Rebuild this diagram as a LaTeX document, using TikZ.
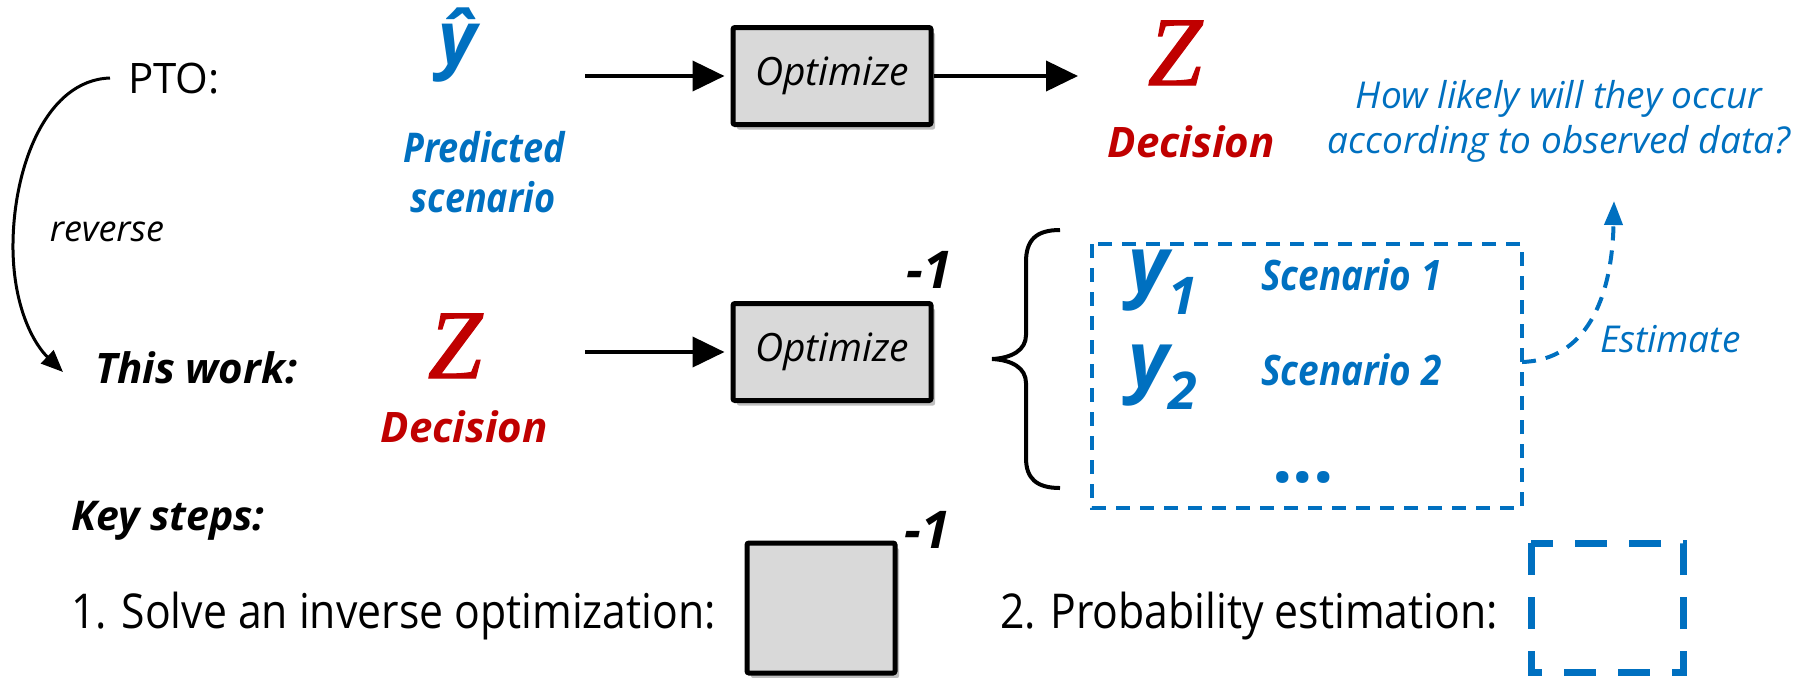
\documentclass[tikz,border=0pt]{standalone}
\usepackage{fontspec}
\setmainfont{Open Sans}
\newfontfamily\zfont{Liberation Serif}[ItalicFeatures={FakeBold=1.3}]
\newfontfamily\stepfont{Open Sans}[FakeStretch=0.89]
\newfontfamily\condfont{Open Sans}[FakeStretch=0.88]
\usetikzlibrary{arrows.meta,shadows}
\definecolor{accblue}{HTML}{0070C0}
\definecolor{accred}{HTML}{C00000}
\definecolor{boxgray}{HTML}{D9D9D9}
\newcommand\fsz[1]{\fontsize{#1}{#1}\selectfont}

\begin{document}
\begin{tikzpicture}[x=0.5pt,y=-0.5pt,
  txt/.style={inner sep=0pt,outer sep=0pt},
  boldlbl/.style={txt,font=\fsz{21}\bfseries\itshape},
  condlbl/.style={txt,font=\condfont\fsz{21}\bfseries\itshape},
  note/.style={txt,font=\fsz{18.5}\itshape,text=accblue},
  zvar/.style={txt,font=\zfont\fsz{49}\itshape,text=accred},
  yvar/.style={txt,text=accblue},
  inv/.style={txt,font=\fsz{26}\bfseries\itshape},
  optbox/.style={draw,line width=2.5pt,fill=boxgray,rounded corners=1pt,
    minimum width=99pt,minimum height=48.5pt,inner sep=0pt,
    font=\fsz{19.5}\itshape,
    drop shadow={shadow xshift=2pt,shadow yshift=-2.5pt,fill=black,opacity=0.25}},
  flow/.style={line width=2pt,shorten >=3pt,-{Triangle[length=16pt,width=15pt]}},
  revarrow/.style={line width=1.5pt,-{Triangle[length=11pt,width=9pt]}},
  scenbox/.style={draw=accblue,line width=2pt,dash pattern=on 7pt off 5pt},
  estarr/.style={draw=accblue,line width=2pt,dash pattern=on 7pt off 5pt,
    -{Triangle[length=12pt,width=9pt]}},
  bigdash/.style={draw=accblue,line width=3.5pt,dash pattern=on 16pt off 11pt}
]
\useasboundingbox (0,0) rectangle (1798,677);

% ---- predict-then-optimize row
\node[txt,anchor=base west,font=\fsz{21}] (pto) at (128,93) {PTO:};
\node[txt,anchor=base,font=\fsz{37}\bfseries\itshape,text=accblue] (yhat) at (458,64) {ŷ};
\node[condlbl,anchor=base,text=accblue,font=\condfont\fsz{20.5}\bfseries\itshape] (pred1) at (484,162) {Predicted};
\node[condlbl,anchor=base,text=accblue,font=\condfont\fsz{20.5}\bfseries\itshape] (pred2) at (483,212) {scenario};
\coordinate (a1s) at (585,76);
\node[optbox] (opt1) at (832,76) {Optimize};
\coordinate (a2e) at (1078,76);
\draw[flow] (a1s) -- (opt1);
\draw[flow,shorten >=0pt] (opt1) -- (a2e);
\node[zvar,anchor=base] (ztop) at (1175,85) {Z};
\node[boldlbl,anchor=base,text=accred] (dtop) at (1191,157) {Decision};

\node[note,anchor=base] (q1) at (1559,108) {How likely will they occur};
\node[note,anchor=base] (q2) at (1559,153) {according to observed data?};

% ---- reverse arrow
\coordinate (rvS) at (110,78);
\coordinate (rvE) at (63,372);
\draw[revarrow] (rvS) .. controls (45,80) and (12,170) .. (13,250)
  .. controls (14,310) and (35,345) .. (rvE);
\node[txt,font=\fsz{18}\itshape] (rev) at (107,232) {reverse};

% ---- inverse row
\node[boldlbl,anchor=base west] (tw) at (95,383) {This work:};
\node[zvar,anchor=base] (zmid) at (455,378) {Z};
\node[boldlbl,anchor=base,text=accred] (dmid) at (464,442) {Decision};
\coordinate (a3s) at (585,352);
\node[optbox] (opt2) at (832,352) {Optimize};
\draw[flow] (a3s) -- (opt2);
\node[inv,anchor=base] (inv1) at (929,288) {-1};

% curly brace
\draw[line width=2pt] (1060,230) .. controls (1036,230) and (1026,240) .. (1026,262)
  -- (1026,335) .. controls (1026,350) and (1012,358) .. (992,359)
  .. controls (1012,360) and (1026,368) .. (1026,383)
  -- (1026,458) .. controls (1026,478) and (1036,488) .. (1060,488);

% scenario set
\draw[scenbox] (1092,244) rectangle (1522,508);
\coordinate (scenE) at (1522,362);
\node[yvar,anchor=base west] (y1) at (1128,292)
  {{\fsz{39}\bfseries\itshape y}\raisebox{-11pt}{\fsz{26}\bfseries\itshape 1}};
\node[condlbl,anchor=base west,text=accblue] (s1) at (1261,290) {Scenario 1};
\node[yvar,anchor=base west] (y2) at (1128,387)
  {{\fsz{39}\bfseries\itshape y}\raisebox{-11pt}{\fsz{26}\bfseries\itshape 2}};
\node[condlbl,anchor=base west,text=accblue] (s2) at (1261,385) {Scenario 2};
\node[txt,anchor=base,font=\fsz{36}\bfseries,text=accblue] (dots) at (1303,482) {...};

\coordinate (estTip) at (1614,201);
\draw[estarr] (scenE) .. controls (1585,360) and (1612,300) .. (estTip);
\node[note,anchor=base west] (est) at (1600,352) {Estimate};

% ---- key steps
\node[boldlbl,font=\fsz{20.5}\bfseries\itshape,anchor=base west] (keys) at (71,530) {Key steps:};
\node[txt,anchor=base west,font=\stepfont\fsz{24}] (st1) at (71,628) {1. Solve an inverse optimization:};
\node[optbox,minimum width=74pt,minimum height=65pt] (invbox) at (821,608) {};
\node[inv,anchor=base] (inv2) at (927,548) {-1};
\node[txt,anchor=base west,font=\stepfont\fsz{24}] (st2) at (1000,628) {2. Probability estimation:};
\draw[bigdash] (1531,543) rectangle (1683,672);
\end{tikzpicture}
\end{document}
